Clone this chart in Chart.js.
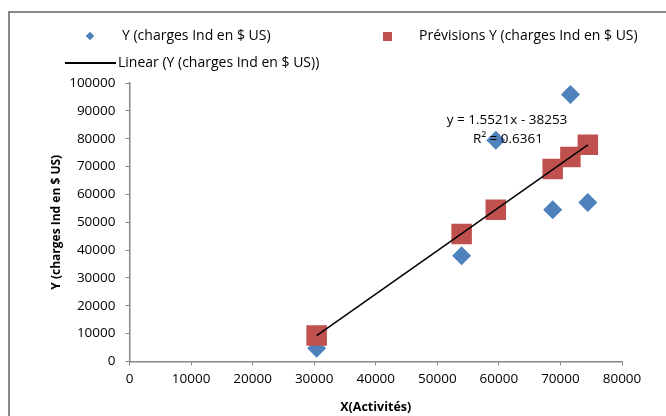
<!DOCTYPE html>
<html>
<head>
<meta charset="utf-8">
<script src="https://cdn.jsdelivr.net/npm/chart.js@4.4.0/dist/chart.umd.min.js"></script>
<style>
  html, body { margin: 0; padding: 0; background: #fff; }
  #wrap { position: relative; width: 666px; height: 416px; overflow: hidden; font-family: 'Open Sans', sans-serif; color: #000; }
  #frame { position: absolute; left: 8px; top: 11px; width: 700px; height: 500px; border-left: 2px solid #888; border-top: 2px solid #888; }
  #chart { position: absolute; left: 0; top: 0; }
  .lg { position: absolute; font-size: 14px; line-height: 16px; white-space: nowrap; }
  .eq { position: absolute; font-size: 13.5px; line-height: 16px; white-space: nowrap; transform: translateX(-50%); }
</style>
</head>
<body>
<div id="wrap">
  <div id="frame"></div>
  <canvas id="chart" width="666" height="416"></canvas>
  <!-- légende faite à la main -->
  <div style="position:absolute;left:87px;top:33px;width:6px;height:6px;background:#4F81BD;transform:rotate(45deg);"></div>
  <div class="lg" style="left:122px;top:27px;">Y (charges Ind en $ US)</div>
  <div style="position:absolute;left:383px;top:32px;width:9px;height:9px;background:#C0504D;"></div>
  <div class="lg" style="left:419px;top:27px;">Prévisions Y (charges Ind en $ US)</div>
  <div style="position:absolute;left:65px;top:62px;width:51px;height:2px;background:#000;"></div>
  <div class="lg" style="left:118px;top:54px;">Linear (Y (charges Ind en $ US))</div>
  <div class="eq" style="left:507px;top:111px;">y = 1.5521x - 38253</div>
  <div class="eq" style="left:508px;top:130px;">R² = 0.6361</div>
</div>
<script>
// données
const activites = [30400, 53950, 59500, 68740, 71620, 74450];
const chargesY = [4800, 38000, 79400, 54500, 95900, 57100];
const previsionsY = [9300, 45800, 54500, 69100, 73400, 77800];
const trendX = [30400, 74450];
const trendY = [9300, 77800];
const xTicks = [0, 10000, 20000, 30000, 40000, 50000, 60000, 70000, 80000];
const yTicks = [0, 10000, 20000, 30000, 40000, 50000, 60000, 70000, 80000, 90000, 100000];

Chart.defaults.font.family = "'Open Sans', sans-serif";
Chart.defaults.color = '#000';

const toPoints = (xs, ys) => xs.map((x, i) => ({ x: x, y: ys[i] }));

new Chart(document.getElementById('chart'), {
    type: 'scatter',
    data: {
        datasets: [{
            label: 'Linear (Y (charges Ind en $ US))',
            type: 'line',
            data: toPoints(trendX, trendY),
            borderColor: '#000',
            borderWidth: 1.5,
            pointRadius: 0,
            order: 0
        }, {
            label: 'Prévisions Y (charges Ind en $ US)',
            data: toPoints(activites, previsionsY),
            pointStyle: 'rect',
            pointRadius: 14.5,
            backgroundColor: '#C0504D',
            borderColor: '#C0504D',
            borderWidth: 0,
            order: 1
        }, {
            label: 'Y (charges Ind en $ US)',
            data: toPoints(activites, chargesY),
            pointStyle: 'rectRot',
            pointRadius: 9.5,
            backgroundColor: '#4F81BD',
            borderColor: '#4F81BD',
            borderWidth: 0,
            order: 2
        }]
    },
    options: {
        responsive: false,
        animation: false,
        layout: { padding: { top: 83, right: 44, left: 0, bottom: 0 } },
        plugins: { legend: { display: false }, tooltip: { enabled: false } },
        scales: {
            x: {
                type: 'linear',
                min: 0,
                max: 80000,
                afterBuildTicks: s => { s.ticks = xTicks.map(v => ({ value: v })); },
                afterFit: s => { s.height = 54.5; },
                ticks: { font: { size: 13.5 }, padding: 6, maxRotation: 0, callback: v => String(v) },
                grid: { drawOnChartArea: false, tickLength: 4, color: '#868686' },
                border: { color: '#868686', width: 1.5 },
                title: { display: true, text: 'X(Activités)', font: { size: 12.5, weight: 'bold' }, padding: { top: 0, bottom: 1 } }
            },
            y: {
                type: 'linear',
                min: 0,
                max: 100000,
                afterBuildTicks: s => { s.ticks = yTicks.map(v => ({ value: v })); },
                afterFit: s => { s.width = 129.5; },
                ticks: { font: { size: 13.5 }, padding: 10, callback: v => String(v) },
                grid: { drawOnChartArea: false, tickLength: 4, color: '#868686' },
                border: { color: '#868686', width: 1.5 },
                title: { display: true, text: 'Y (charges Ind en $ US)', font: { size: 12, weight: 'bold' }, padding: { top: 49, bottom: 0 } }
            }
        }
    }
});
</script>
</body>
</html>
